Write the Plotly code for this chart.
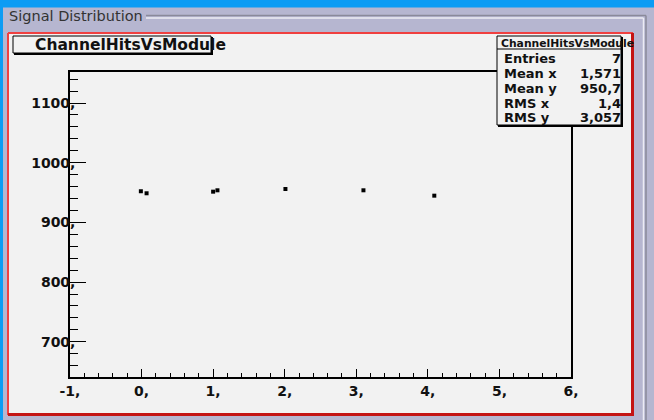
import plotly.graph_objects as go

W, H = 654, 420
# plot-area box in pixels (left, right, top, bottom)
PX0, PX1, PY0, PY1 = 70, 571, 72, 377

# ---- data ----
module_x = [-0.01, 0.07, 1.00, 1.06, 2.01, 3.10, 4.09]
hits_y = [952.2, 948.8, 951.5, 953.8, 956.0, 953.8, 944.8]

x_tick_vals = [-1, 0, 1, 2, 3, 4, 5, 6]
x_tick_text = ["-1,", "0,", "1,", "2,", "3,", "4,", "5,", "6,"]
y_tick_vals = [700, 800, 900, 1000, 1100]
y_tick_text = ["700,", "800,", "900,", "1000,", "1100,"]
x_range = [-1, 6]
y_range = [641, 1152]

group_title = "Signal Distribution"
hist_title = "ChannelHitsVsModule"
stat_labels = ["Entries", "Mean x", "Mean y", "RMS x", "RMS y"]
stat_values = ["7", "1,571", "950,7", "1,4", "3,057"]

FONT = "DejaVu Sans"
LAV = "#b6b6d0"
BLUE = "#0c9cf4"
CANVAS = "#f2f2f2"


def px(x):
    return (x - PX0) / (PX1 - PX0)


def py(y):
    return (PY1 - y) / (PY1 - PY0)


def rect(x0, y0, x1, y1, fill=None, line_color=None, lw=0, layer="below"):
    d = dict(type="rect", xref="paper", yref="paper",
             x0=px(x0), x1=px(x1), y0=py(y0), y1=py(y1), layer=layer,
             line=dict(width=lw, color=line_color or "rgba(0,0,0,0)"))
    if fill:
        d["fillcolor"] = fill
    return d


def line(x0, y0, x1, y1, color="black", lw=1, layer="below"):
    return dict(type="line", xref="paper", yref="paper",
                x0=px(x0), x1=px(x1), y0=py(y0), y1=py(y1), layer=layer,
                line=dict(color=color, width=lw))


fig = go.Figure()
fig.add_trace(go.Scatter(
    x=module_x, y=hits_y, mode="markers",
    marker=dict(symbol="square", size=4, color="black", line=dict(width=0)),
    hoverinfo="x+y", showlegend=False))

shapes = [
    rect(0, 0, W, 7.5, fill=BLUE),
    rect(0, 0, 3, H, fill=BLUE),
    line(146, 15.5, 646, 15.5, color="#8a8a9a", lw=1.5),
    line(146, 18, 643.5, 18, color="#ececf4", lw=1.5),
    line(646, 15.5, 646, H, color="#8a8a9a", lw=1.5),
    line(643.5, 18, 643.5, H, color="#ececf4", lw=1.5),
    rect(8, 33, 633, 415, fill=CANVAS),
    # red canvas border
    line(8, 33, 633, 33, color="#f04040", lw=2),
    line(8, 33, 8, 415, color="#f04040", lw=2),
    line(8, 414.5, 634, 414.5, color="#c41414", lw=3),
    line(632.5, 33, 632.5, 415, color="#c41414", lw=3),
    # title box
    rect(13, 36, 211, 53, line_color="black", lw=1),
    line(14, 54, 213, 54, lw=2),
    line(212, 37, 212, 55, lw=2),
    # stats box
    rect(497, 36, 621, 125, fill=CANVAS, line_color="black", lw=1, layer="above"),
    line(498, 126, 623, 126, lw=2, layer="above"),
    line(622, 37, 622, 127, lw=2, layer="above"),
    line(497, 49, 621, 49, lw=1, layer="above"),
]

annotations = [
    dict(text=group_title, x=px(8), y=py(16), xanchor="left", yanchor="middle",
         font=dict(family=FONT, size=14.5, color="#333333")),
    dict(text=hist_title, x=px(34), y=py(45.5), xanchor="left", yanchor="middle",
         font=dict(family=FONT, size=15.5, color="#111111", weight="bold")),
    dict(text=hist_title, x=px(500), y=py(43), xanchor="left", yanchor="middle",
         font=dict(family=FONT, size=10.8, color="#111111", weight="bold")),
]
for i, (lab, val) in enumerate(zip(stat_labels, stat_values)):
    yy = 58.7 + 14.8 * i
    annotations.append(dict(text=lab, x=px(503), y=py(yy), xanchor="left", yanchor="middle",
                            font=dict(family=FONT, size=13, color="#111111", weight="bold")))
    annotations.append(dict(text=val, x=px(622), y=py(yy), xanchor="right", yanchor="middle",
                            font=dict(family=FONT, size=13, color="#111111", weight="bold")))
for a in annotations:
    a.update(xref="paper", yref="paper", showarrow=False, borderpad=0)

fig.update_layout(
    width=W, height=H,
    margin=dict(l=PX0, r=W - PX1, t=PY0, b=H - PY1, pad=0),
    paper_bgcolor=LAV, plot_bgcolor=CANVAS,
    shapes=shapes, annotations=annotations, showlegend=False,
    xaxis=dict(range=x_range, tickvals=x_tick_vals, ticktext=x_tick_text,
               ticks="inside", ticklen=8, tickwidth=1.2, tickcolor="black",
               minor=dict(dtick=0.2, ticks="inside", ticklen=4, tickwidth=1.2, tickcolor="black"),
               showline=True, linecolor="black", linewidth=1.5, mirror=True,
               showgrid=False, zeroline=False,
               tickfont=dict(family=FONT, size=14, color="#111111", weight="bold")),
    yaxis=dict(range=y_range, tickvals=y_tick_vals, ticktext=y_tick_text,
               ticks="inside", ticklen=16, tickwidth=1.2, tickcolor="black",
               minor=dict(dtick=20, ticks="inside", ticklen=8, tickwidth=1.2, tickcolor="black"),
               showline=True, linecolor="black", linewidth=1.5, mirror=True,
               showgrid=False, zeroline=False, ticklabelstandoff=-10,
               tickfont=dict(family=FONT, size=14, color="#111111", weight="bold")),
)

fig.write_html("out.html", config={"displayModeBar": False},
               post_script="document.body.style.margin='0';document.body.style.overflow='hidden';")
